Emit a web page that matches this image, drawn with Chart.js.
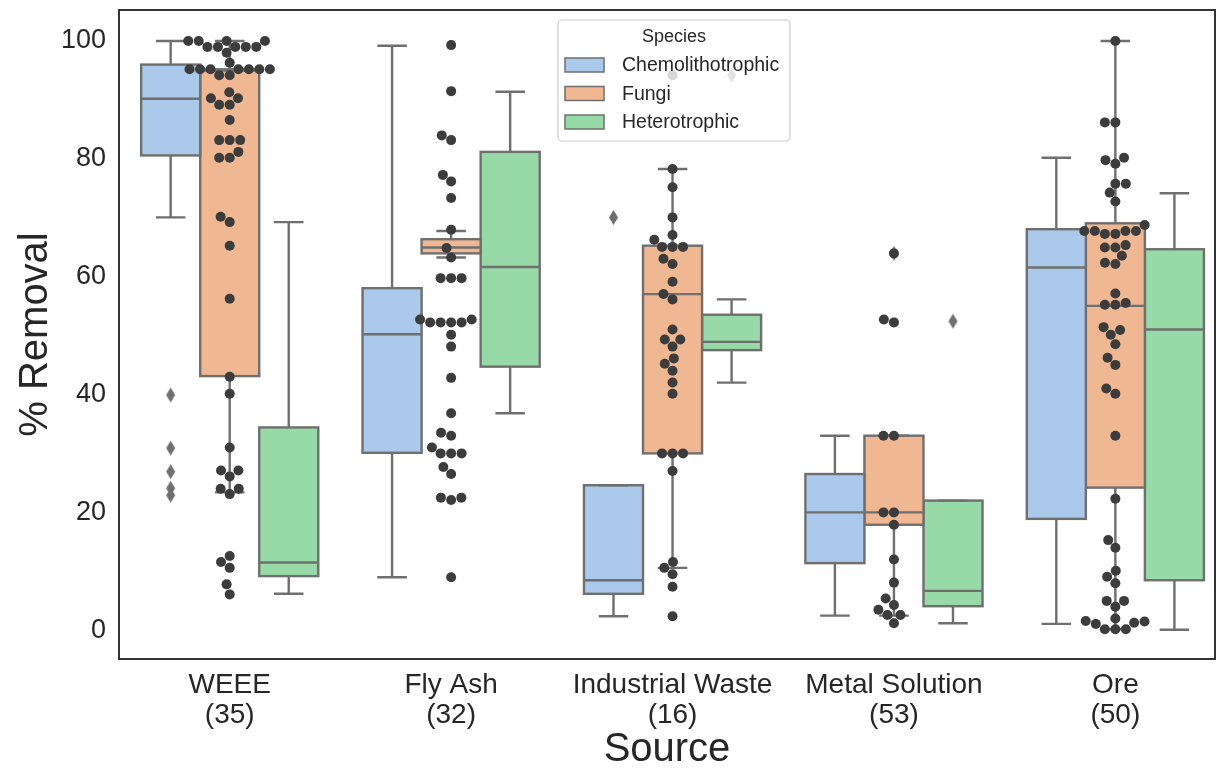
<!DOCTYPE html>
<html>
<head>
<meta charset="utf-8">
<script src="https://cdn.jsdelivr.net/npm/chart.js@4.4.1/dist/chart.umd.min.js"></script>
<style>
  html, body { margin: 0; padding: 0; background: #fff; }
  canvas { display: block; }
</style>
</head>
<body>
<canvas id="chart" width="1220" height="770"></canvas>
<script>
// === DATA ===
const categories = ['WEEE', 'Fly Ash', 'Industrial Waste', 'Metal Solution', 'Ore'];
const counts = ['(35)', '(32)', '(16)', '(53)', '(50)'];
const species = ['Chemolithotrophic', 'Fungi', 'Heterotrophic'];
const yTicks = [0, 20, 40, 60, 80, 100];

// box stats per category: [lower whisker, q1, median, q3, upper whisker]
const chemoBoxes = [
    [70.1, 80.6, 90.2, 96.0, 100],
    [9.1, 30.2, 50.3, 58.1, 99.2],
    [2.5, 6.3, 8.6, 24.7, 24.7],
    [2.6, 11.5, 20.1, 26.6, 33.1],
    [1.2, 19.0, 61.6, 68.1, 80.2]
];
const fungiBoxes = [
    [23.5, 43.2, 95.0, 95.2, 100],
    [63.3, 64.0, 65.0, 66.4, 67.8],
    [10.7, 30.1, 57.1, 65.3, 78.3],
    [2.6, 18.0, 20.1, 33.1, 33.1],
    [0.3, 24.3, 55.1, 69.1, 100]
];
const heteroBoxes = [
    [6.3, 9.3, 11.6, 34.5, 69.3],
    [36.9, 44.8, 61.7, 81.2, 91.4],
    [42.1, 47.6, 49.0, 53.6, 56.2],
    [1.3, 4.2, 6.8, 22.1, 22.1],
    [0.2, 8.6, 51.1, 64.7, 74.2]
];

// outliers per category
const chemoFliers = [[40, 31, 27, 24.2, 23], [], [70.1], [], []];
const fungiFliers = [[], [], [], [64.0], []];
const heteroFliers = [[], [], [94.2], [52.5], []];

// swarm points (all records per source)
const swarmWEEE = [100, 100, 100, 100, 99, 99, 99, 99, 99, 98, 96.3, 95.2, 95.2, 95.2, 95.2, 95.2, 95.2, 95.2,
    94.2, 94.2, 91.3, 90.3, 90.3, 89.2, 89.2, 86.6, 83.2, 83.2, 83.2, 81.2, 80.2, 80.2, 70.2, 69.3, 65.3, 56.3,
    43.1, 40.2, 31.1, 27.2, 27.2, 26.2, 24.1, 24.1, 23.2, 12.7, 11.7, 10.7, 7.9, 6.2];
const swarmFlyAsh = [99.3, 91.5, 84.0, 83.2, 77.3, 76.2, 73.4, 68.0, 64.9, 63.3, 59.8, 59.8, 59.8, 52.8, 52.8,
    52.3, 52.3, 52.3, 52.3, 50.2, 48.2, 42.9, 36.9, 33.6, 33.1, 31.1, 30.1, 30.1, 30.1, 27.8, 26.6, 22.6, 22.6, 22.2, 9.1];
const swarmIndustrial = [94.2, 78.3, 75.2, 70.1, 67.1, 66.3, 65.1, 65.1, 65.1, 63.1, 62.2, 59.2, 57.1, 56.2, 51.1,
    49.4, 49.4, 48.2, 46.2, 45.3, 44.1, 42.1, 40.2, 30.1, 30.1, 30.1, 27.1, 11.7, 10.7, 9.6, 7.5, 2.5];
const swarmMetal = [64.0, 52.8, 52.3, 33.1, 33.1, 20.1, 20.1, 18.0, 12.1, 8.2, 5.5, 4.4, 3.6, 2.7, 2.7, 1.3];
const swarmOre = [100, 86.2, 86.2, 80.2, 79.8, 79.2, 75.8, 75.8, 74.3, 72.8, 68.8, 67.8, 67.8, 67.8, 67.8, 67.3, 67.3,
    65.4, 65.0, 65.0, 63.6, 62.4, 62.2, 57.2, 55.6, 55.3, 55.3, 51.5, 51.0, 50.2, 48.6, 46.3, 45.1, 41.1, 40.2, 33.1,
    22.4, 15.4, 14.1, 10.2, 9.2, 8.1, 5.1, 5.1, 4.1, 2.1, 1.7, 1.6, 1.4, 1.2, 0.3, 0.3, 0.3];

// === STYLE ===
const FONT = '"Liberation Sans", Arial, sans-serif';
const TEXT = '#262626';
const LINE = '#6f6f6f';
const DOT = '#3c3c3c';
const boxColors = ['#abc9ea', '#efb792', '#98daa7'];
const hueOffsets = [-0.8 / 3, 0, 0.8 / 3];

const boxSets = [chemoBoxes, fungiBoxes, heteroBoxes];
const flierSets = [chemoFliers, fungiFliers, heteroFliers];
const swarmSets = [swarmWEEE, swarmFlyAsh, swarmIndustrial, swarmMetal, swarmOre];

// thin diamond marker like matplotlib 'd'
function diamond(w, h, color) {
    const c = document.createElement('canvas');
    c.width = w + 2; c.height = h + 2;
    const g = c.getContext('2d');
    g.fillStyle = color;
    g.beginPath();
    g.moveTo(c.width / 2, 1);
    g.lineTo(c.width - 1, c.height / 2);
    g.lineTo(c.width / 2, c.height - 1);
    g.lineTo(1, c.height / 2);
    g.closePath();
    g.fill();
    return c;
}
const diamondImg = diamond(9, 15, LINE);

// simple beeswarm in pixel space (closest free spot to the centre line)
function beeswarm(ys, d) {
    const order = ys.map((y, i) => i).sort((a, b) => ys[b] - ys[a]);
    const placed = [];
    const offs = new Array(ys.length).fill(0);
    order.forEach(i => {
        const y = ys[i];
        const near = placed.filter(p => Math.abs(p.y - y) < d);
        const cands = [0];
        near.forEach(p => {
            const dx = Math.sqrt(Math.max(d * d - (p.y - y) ** 2, 0));
            cands.push(p.x - dx, p.x + dx);
        });
        cands.sort((a, b) => Math.abs(a) - Math.abs(b));
        for (const c of cands) {
            if (near.every(p => (p.x - c) ** 2 + (p.y - y) ** 2 >= d * d - 0.5)) {
                offs[i] = c;
                placed.push({ x: c, y });
                break;
            }
        }
    });
    return offs;
}

// === PLUGINS ===
const boxPlugin = {
    id: 'boxLines',
    afterDatasetDraw(chart, args) {
        if (args.meta.type !== 'bar') return;
        const stats = boxSets[args.index];
        const y = chart.scales.y;
        const ctx = chart.ctx;
        ctx.save();
        ctx.strokeStyle = LINE;
        ctx.lineWidth = 2.4;
        args.meta.data.forEach((el, j) => {
            const [lo, q1, med, q3, hi] = stats[j];
            const x = el.x, w = el.width;
            const pLo = y.getPixelForValue(lo), p1 = y.getPixelForValue(q1);
            const pM = y.getPixelForValue(med), p3 = y.getPixelForValue(q3);
            const pHi = y.getPixelForValue(hi);
            ctx.beginPath();
            // whiskers
            ctx.moveTo(x, p1); ctx.lineTo(x, pLo);
            ctx.moveTo(x, p3); ctx.lineTo(x, pHi);
            // caps
            ctx.moveTo(x - w / 4, pLo); ctx.lineTo(x + w / 4, pLo);
            ctx.moveTo(x - w / 4, pHi); ctx.lineTo(x + w / 4, pHi);
            // median
            ctx.moveTo(x - w / 2, pM); ctx.lineTo(x + w / 2, pM);
            ctx.stroke();
            ctx.strokeRect(x - w / 2, p3, w, p1 - p3);
        });
        ctx.restore();
    }
};

const framePlugin = {
    id: 'frameAndLegend',
    afterDraw(chart) {
        const ctx = chart.ctx;
        const a = chart.chartArea;
        ctx.save();
        ctx.strokeStyle = '#333333';
        ctx.lineWidth = 2;
        ctx.strokeRect(a.left, a.top, a.right - a.left, a.bottom - a.top);

        // legend
        const lx = 558, ly = 20, lw = 232, lh = 121;
        ctx.beginPath();
        ctx.roundRect(lx, ly, lw, lh, 4);
        ctx.fillStyle = 'rgba(255,255,255,0.8)';
        ctx.fill();
        ctx.strokeStyle = '#cccccc';
        ctx.lineWidth = 1.2;
        ctx.stroke();
        ctx.fillStyle = TEXT;
        ctx.textBaseline = 'middle';
        ctx.textAlign = 'center';
        ctx.font = '18px ' + FONT;
        ctx.fillText('Species', lx + lw / 2, ly + 17);
        ctx.textAlign = 'left';
        ctx.font = '19.5px ' + FONT;
        species.forEach((s, i) => {
            const ry = ly + 45 + i * 28.5;
            ctx.fillStyle = boxColors[i];
            ctx.fillRect(lx + 7, ry - 7, 39, 14);
            ctx.strokeStyle = LINE;
            ctx.lineWidth = 1.5;
            ctx.strokeRect(lx + 7, ry - 7, 39, 14);
            ctx.fillStyle = TEXT;
            ctx.fillText(s, lx + 64, ry + 1);
        });
        ctx.restore();
    }
};

// === DATASETS ===
const datasets = [];
species.forEach((s, si) => {
    datasets.push({
        type: 'bar',
        label: s,
        data: boxSets[si].map((b, ci) => ({ x: ci + hueOffsets[si], y: [b[1], b[3]] })),
        backgroundColor: boxColors[si],
        borderWidth: 0,
        grouped: false,
        categoryPercentage: 1.0,
        barPercentage: 1.0,
        order: 3
    });
});
species.forEach((s, si) => {
    const pts = [];
    flierSets[si].forEach((vals, ci) => vals.forEach(v => pts.push({ x: ci + hueOffsets[si], y: v })));
    datasets.push({
        type: 'scatter',
        label: s + ' outliers',
        data: pts,
        pointStyle: diamondImg,
        order: 2
    });
});
const swarmDataset = {
    type: 'scatter',
    label: 'points',
    data: [],
    pointRadius: 5,
    pointBackgroundColor: DOT,
    pointBorderWidth: 0,
    order: 1
};
datasets.push(swarmDataset);

const chart = new Chart(document.getElementById('chart').getContext('2d'), {
    type: 'scatter',
    data: { datasets: datasets },
    options: {
        responsive: false,
        devicePixelRatio: 1,
        animation: false,
        layout: { padding: { top: 10, right: 2, left: 0, bottom: 0 } },
        plugins: {
            legend: { display: false },
            tooltip: { enabled: false }
        },
        scales: {
            x: {
                type: 'linear',
                min: -0.5,
                max: 4.45,
                offset: false,
                grid: { display: false, drawTicks: false },
                border: { display: false },
                afterBuildTicks(scale) {
                    scale.ticks = categories.map((c, i) => ({ value: i }));
                },
                ticks: {
                    color: TEXT,
                    font: { family: FONT, size: 28, lineHeight: 1.08 },
                    padding: 11,
                    maxRotation: 0,
                    autoSkip: false,
                    callback: (v, i) => [categories[i], counts[i]]
                },
                title: {
                    display: true,
                    text: 'Source',
                    color: TEXT,
                    font: { family: FONT, size: 40, lineHeight: 1.0 },
                    padding: { top: 0, bottom: 0 }
                },
                afterFit(scale) {
                    scale.height = 111;
                    scale.paddingLeft = 0;
                    scale.paddingRight = 0;
                }
            },
            y: {
                type: 'linear',
                min: -4.75,
                max: 105.25,
                grid: { display: false, drawTicks: false },
                border: { display: false },
                ticks: {
                    color: TEXT,
                    font: { family: FONT, size: 27 },
                    padding: 13
                },
                afterBuildTicks(scale) {
                    scale.ticks = yTicks.map(v => ({ value: v }));
                },
                title: {
                    display: true,
                    text: '% Removal',
                    color: TEXT,
                    font: { family: FONT, size: 40, lineHeight: 1.2 },
                    padding: { top: 12, bottom: 0 }
                },
                afterFit(scale) {
                    scale.width = 119;
                    scale.paddingTop = 0;
                    scale.paddingBottom = 0;
                }
            }
        }
    },
    plugins: [boxPlugin, framePlugin]
});

// place swarm points with the real scales
const yS = chart.scales.y, xS = chart.scales.x;
const unit = xS.getPixelForValue(1) - xS.getPixelForValue(0);
swarmSets.forEach((vals, ci) => {
    const offs = beeswarm(vals.map(v => yS.getPixelForValue(v)), 10.5);
    vals.forEach((v, k) => swarmDataset.data.push({ x: ci + offs[k] / unit, y: v }));
});
chart.update('none');
</script>
</body>
</html>
